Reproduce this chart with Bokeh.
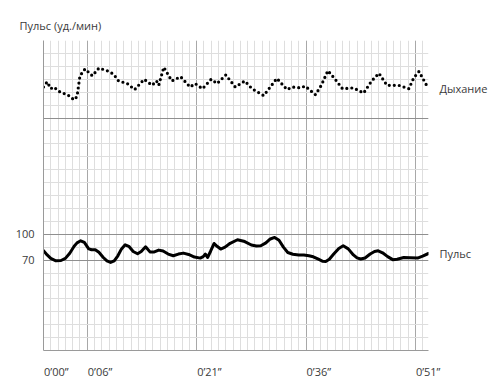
import numpy as np
from bokeh.plotting import figure
from bokeh.models import FixedTicker, Grid, LinearAxis, Range1d
from bokeh.embed import file_html
from bokeh.resources import INLINE

# --- data (seconds, chart units) ---
pulse_t = [0, 0.5, 1.0, 1.7, 2.4, 3.0, 3.6, 4.2, 4.6, 5.1, 5.6, 6.2, 6.6, 7.1, 7.6, 8.2,
           8.7, 9.2, 9.7, 10.2, 10.7, 11.2, 11.7, 12.3, 12.9, 13.4, 14.0, 14.6, 15.2,
           15.8, 16.4, 17.1, 17.8, 18.5, 19.2, 19.9, 20.7, 21.5, 21.9, 22.2, 22.5, 22.9,
           23.4, 23.8, 24.3, 24.9, 25.6, 26.6, 27.6, 28.5, 29.2, 29.8, 30.5, 31.1, 31.7,
           32.3, 32.9, 33.5, 34.2, 35.0, 35.7, 36.4, 37.0, 37.7, 38.3, 38.7, 39.2, 39.8,
           40.5, 41.1, 41.8, 42.5, 43.0, 43.5, 44.1, 44.8, 45.4, 45.9, 46.5, 47.2, 47.9,
           48.5, 49.4, 50.3, 51.3, 52.0, 52.8]
pulse_v = [81, 76, 72, 69.2, 69.5, 72, 78, 86, 90, 92.4, 90.5, 83, 82, 82, 79, 73,
           69, 67.2, 69, 75, 83, 87.8, 86, 80, 77.3, 80, 85.5, 79.5, 79.5,
           81.6, 80.5, 77, 75, 77, 78.1, 76.5, 73.5, 72.3, 74, 77, 73, 80,
           89.3, 86, 82.8, 85, 89.5, 93.6, 91.5, 87.5, 86.3, 86.6, 90, 94.5, 96.3,
           93, 85, 78.8, 76.8, 76, 75.8, 75, 73.8, 71, 68.6, 68.4, 71, 77,
           83.5, 86.6, 83, 76, 72.5, 71.2, 72.5, 77, 80, 80.8, 78.5, 74, 70.5,
           71, 73, 72.8, 72.3, 74.5, 77.7]

breath_t = [0, 0.5, 1.0, 1.4, 2.3, 3.3, 4.2, 4.6, 5.0, 5.7, 6.7, 7.6, 8.7, 9.6, 10.3, 11.5,
            12.5, 13.8, 14.9, 15.5, 15.8, 16.5, 17.6, 18.8, 20.1, 20.8, 21.8, 23.0, 23.8,
            25.0, 26.3, 27.6, 28.6, 30.2, 32.0, 33.4, 34.1, 35.2, 35.9, 37.3, 38.1, 39.0,
            40.0, 41.0, 42.5, 43.9, 45.0, 46.0, 47.1, 48.7, 50.1, 50.8, 51.5, 52.8]
breath_v = [271, 277, 269, 271, 265, 262, 256, 260, 284, 292, 284, 293, 290, 286, 278, 275,
            268, 280, 273, 278, 273, 294, 278, 283, 271, 275, 269, 280, 275,
            285, 271, 278, 269, 261, 281, 268, 271, 270, 272, 262, 273, 290,
            280, 269, 270, 264, 278, 287, 273, 273, 269, 282, 289, 269]

series_names = ["Дыхание", "Пульс"]

x_ticks = [0, 6, 21, 36, 51]
x_labels = ["0\u201900\u201d", "0\u201906\u201d", "0\u201921\u201d", "0\u201936\u201d", "0\u201951\u201d"]
y_ticks = [70, 100]
y_labels = ["70", "100"]
y_major_grid = [70, 100, 235]

FONT = "Open Sans"
TXT = "#3a3a3a"
X0, X1 = 0, 52.8
Y0, Y1 = -35, 325
FRAME_W = 385
LBL_SHIFT = 12.8 * (X1 - X0) / FRAME_W   # about half a tick label, so labels start at their tick

p = figure(width=496, height=382, output_backend="svg", toolbar_location=None,
           x_range=(X0, X1), y_range=(Y0, Y1),
           min_border_left=43, min_border_right=68, min_border_top=40, min_border_bottom=32)
p.outline_line_color = None
p.background_fill_color = "white"

# title
p.title.text = "Пульс (уд./мин)"
p.title.align = "left"
p.title.offset = -24
p.title.text_font = FONT
p.title.text_font_style = "normal"
p.title.text_font_size = "11px"
p.title.text_color = TXT
p.title.standoff = 16

# left axis (configured before any other y axis is added)
ya = p.yaxis[0]
ya.ticker = FixedTicker(ticks=y_ticks)
ya.major_label_overrides = dict(zip(y_ticks, y_labels))

# bottom axis: labels start at their tick
p.xaxis.visible = False
p.extra_x_ranges = {"lbl": Range1d(X0 - LBL_SHIFT, X1 - LBL_SHIFT)}
xa = LinearAxis(x_range_name="lbl", ticker=FixedTicker(ticks=x_ticks),
                major_label_overrides=dict(zip(x_ticks, x_labels)))
p.add_layout(xa, "below")

# series names at the right end of each trace
end_vals = [breath_v[-1], pulse_v[-1]]
ra = LinearAxis(ticker=FixedTicker(ticks=end_vals),
                major_label_overrides=dict(zip(end_vals, series_names)))
p.add_layout(ra, "right")

for ax in (xa, ya, ra):
    ax.axis_line_color = "#9a9a9a"
    ax.axis_line_width = 1
    ax.major_tick_line_color = None
    ax.minor_tick_line_color = None
    ax.major_label_text_font = FONT
    ax.major_label_text_font_size = "11px"
    ax.major_label_text_color = TXT
ra.axis_line_color = None
ya.major_label_standoff = 3
xa.major_label_standoff = 7
ra.major_label_standoff = 5

# grids
p.xgrid.ticker = FixedTicker(ticks=x_ticks[1:], minor_ticks=list(np.arange(0, 53, 1)))
p.xgrid.grid_line_color = "#a8a8a8"
p.xgrid.minor_grid_line_color = "#dedede"
p.ygrid.visible = False
yg = Grid(dimension=1, ticker=FixedTicker(ticks=y_major_grid,
                                          minor_ticks=list(np.arange(Y0, Y1 + 1, 15))),
          grid_line_color="#8f8f8f", minor_grid_line_color="#dedede")
p.add_layout(yg)

# series
p.line(breath_t, breath_v, line_color="black", line_width=3.2, line_dash="0 5",
       line_cap="round", line_join="round")
p.line(pulse_t, pulse_v, line_color="black", line_width=3, line_cap="round", line_join="round")

open("out.html", "w").write(file_html(p, INLINE))
